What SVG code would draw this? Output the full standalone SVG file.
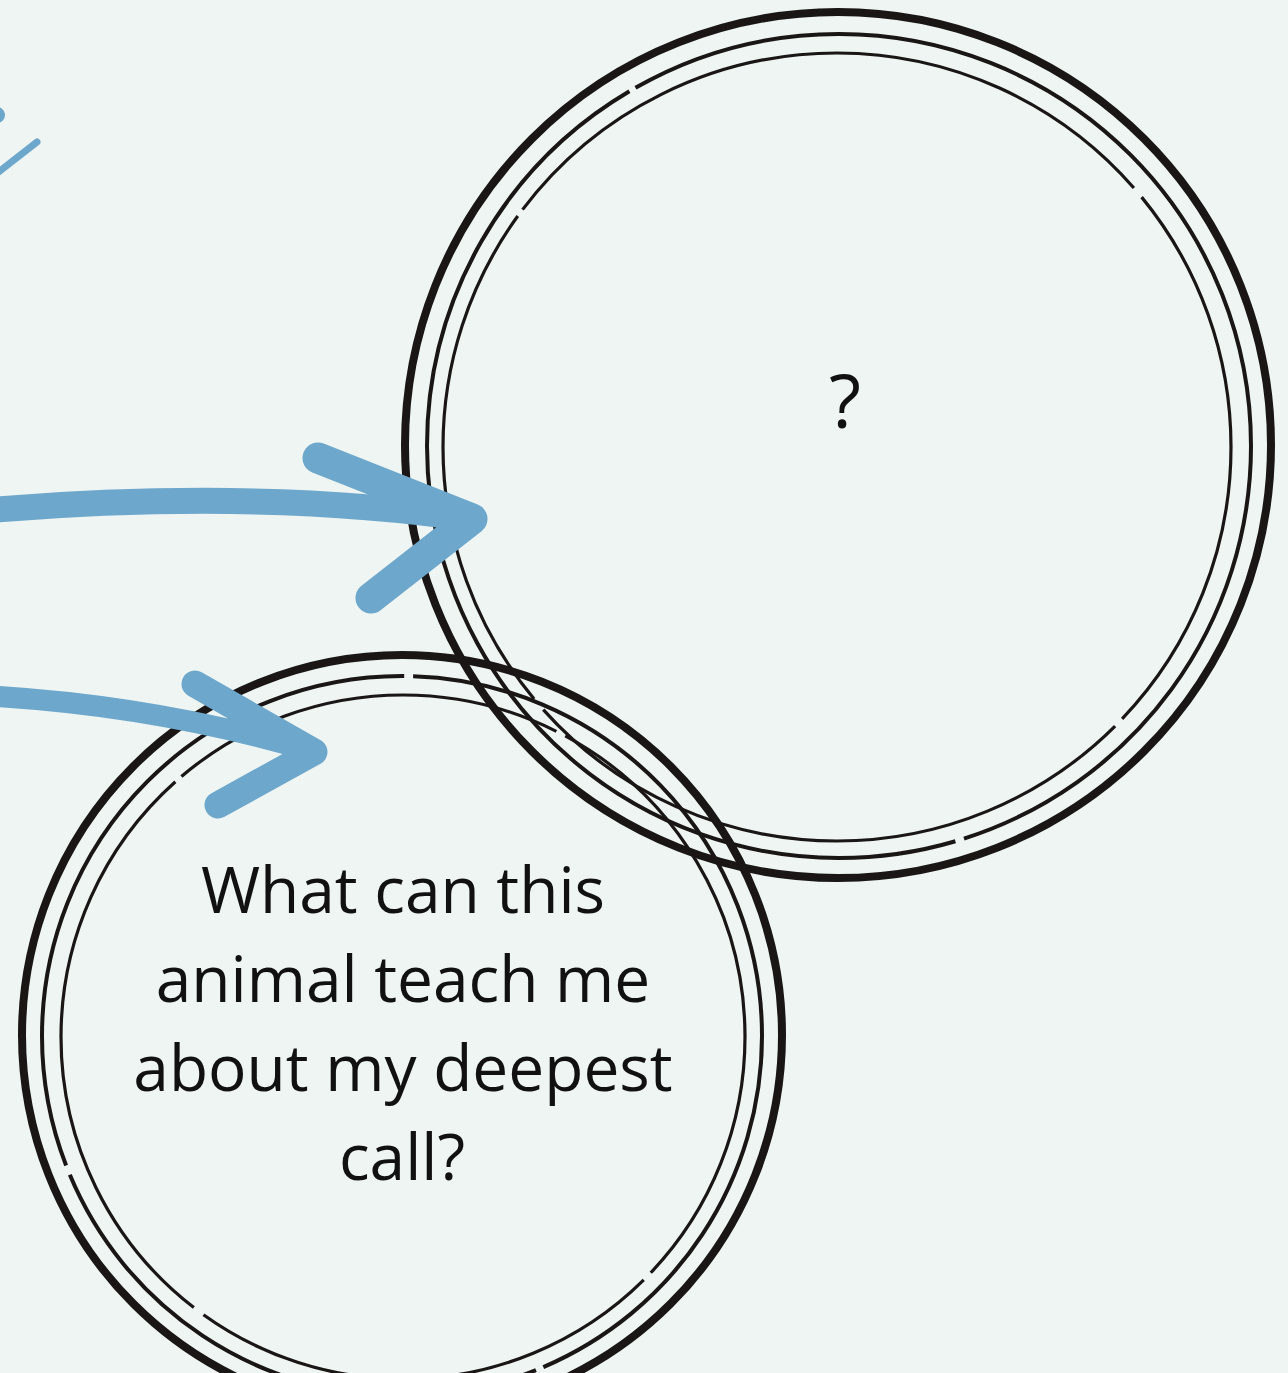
<svg xmlns="http://www.w3.org/2000/svg" width="1288" height="1373" viewBox="0 0 1288 1373">
  <style>
    .ring-outer { fill: none; stroke: #1a1616; stroke-width: 8; }
    .ring-mid { fill: none; stroke: #1a1616; stroke-width: 4; }
    .ring-in { fill: none; stroke: #1a1616; stroke-width: 3.2; }
    .arrow { fill: none; stroke: #6ea7cc; stroke-linecap: round; stroke-linejoin: round; }
    .label { font-family: "Open Sans", "Noto Sans", "Liberation Sans", sans-serif; font-size: 64px; fill: #111; text-anchor: middle; }
  </style>
  <rect x="0" y="0" width="1288" height="1373" fill="#eef5f2"/>

  <g id="node-question">
    <circle class="ring-outer" cx="838" cy="445" r="433"/>
    <circle class="ring-mid" cx="839" cy="446" r="412" stroke-dasharray="520 9 700 12 480 7 900"/>
    <circle class="ring-in" cx="837" cy="447" r="394" stroke-dasharray="300 10 640 14 520 8 700 12 300"/>
    <text class="label" x="845" y="428" style="font-size:74px">?</text>
  </g>

  <g id="node-deepest-call">
    <circle class="ring-outer" cx="402" cy="1035" r="380"/>
    <circle class="ring-mid" cx="402" cy="1036" r="360" stroke-dasharray="420 8 560 10 700 9 600"/>
    <circle class="ring-in" cx="403" cy="1037" r="342" stroke-dasharray="260 10 480 12 600 8 400 10 500"/>
    <text class="label" x="403" y="913">What can this</text>
    <text class="label" x="403" y="1002">animal teach me</text>
    <text class="label" x="403" y="1091">about my deepest</text>
    <text class="label" x="402" y="1180">call?</text>
  </g>

  <g id="connectors">
    <!-- partial arrow at top-left edge -->
    <path class="arrow" d="M -30 118 L -3 115" stroke-width="16"/>
    <path class="arrow" d="M -4 174 L 37 142" stroke-width="7"/>
    <!-- arrow into question circle -->
    <path class="arrow" d="M -10 510 Q 260 488 472 519" stroke-width="26"/>
    <path class="arrow" d="M 318 458 L 472 519 L 371 598" stroke-width="31"/>
    <!-- arrow into deepest-call circle -->
    <path class="arrow" d="M -10 696 Q 160 706 314 752" stroke-width="21"/>
    <path class="arrow" d="M 195 684 L 314 752 L 218 805" stroke-width="27"/>
  </g>
</svg>
